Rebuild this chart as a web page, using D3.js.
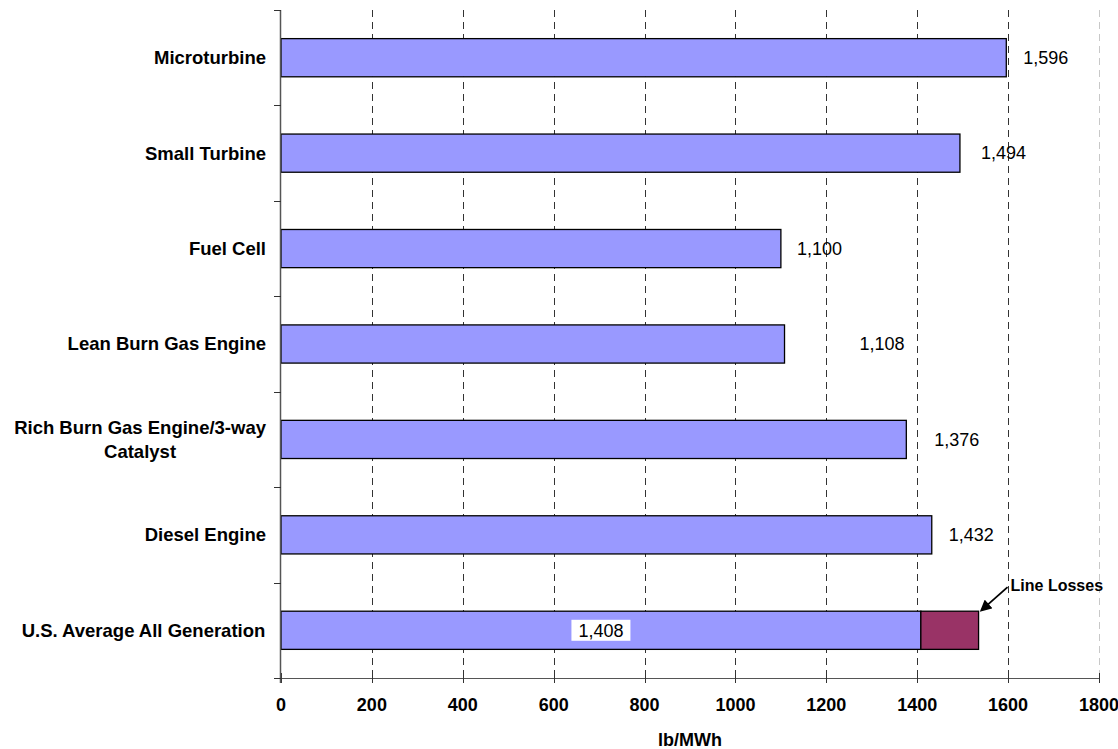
<!DOCTYPE html>
<html>
<head>
<meta charset="utf-8">
<script src="https://cdn.jsdelivr.net/npm/d3@7/dist/d3.min.js"></script>
<style>
  html, body { margin: 0; padding: 0; background: #fff; }
  svg { display: block; font-family: Arial, "Liberation Sans", sans-serif; }
</style>
</head>
<body>
<svg id="chart" width="1118" height="749"></svg>
<script>
// CO2 emissions by generation technology (lb/MWh)
const categories = [
  "Microturbine",
  "Small Turbine",
  "Fuel Cell",
  "Lean Burn Gas Engine",
  "Rich Burn Gas Engine/3-way Catalyst",
  "Diesel Engine",
  "U.S. Average All Generation"
];
const emissions = [1596, 1494, 1100, 1108, 1376, 1432, 1408];
const lineLosses = [0, 0, 0, 0, 0, 0, 127];
const xTicks = [0, 200, 400, 600, 800, 1000, 1200, 1400, 1600, 1800];
const axisTitle = "lb/MWh";
const annotationText = "Line Losses";

// Horizontal gap (px) between each bar end and its value label
const labelGap = [17, 21, 16, 75, 28, 17, null];

const svg = d3.select("#chart");
const plot = { left: 281, right: 1099, top: 10, bottom: 678 };

const x = d3.scaleLinear().domain([0, 1800]).range([plot.left, plot.right]);
const y = d3.scaleBand().domain(categories).range([plot.top, plot.bottom]).paddingInner(0.6).paddingOuter(0.3);
const yBand = d3.scaleBand().domain(categories).range([plot.top, plot.bottom]);

const fmt = d3.format(",");

// Vertical dashed gridlines
svg.append("g").selectAll("line")
  .data(xTicks.filter(d => d > 0))
  .join("line")
  .attr("x1", d => Math.round(x(d)) + 0.5).attr("x2", d => Math.round(x(d)) + 0.5)
  .attr("y1", plot.top).attr("y2", plot.bottom)
  .attr("stroke", d => d === 1800 ? "#c8c8c8" : "#333")
  .attr("stroke-width", 1)
  .attr("stroke-dasharray", "7,5");

// Main bars
svg.append("g").selectAll("rect")
  .data(categories)
  .join("rect")
  .attr("x", x(0))
  .attr("y", d => y(d))
  .attr("width", (d, i) => x(emissions[i]) - x(0))
  .attr("height", y.bandwidth())
  .attr("fill", "#9999ff")
  .attr("stroke", "#000")
  .attr("stroke-width", 1.3);

// Line-loss segments stacked on the bars
svg.append("g").selectAll("rect")
  .data(categories.filter((d, i) => lineLosses[i] > 0))
  .join("rect")
  .attr("x", d => x(emissions[categories.indexOf(d)]))
  .attr("y", d => y(d))
  .attr("width", d => { const i = categories.indexOf(d); return x(emissions[i] + lineLosses[i]) - x(emissions[i]); })
  .attr("height", y.bandwidth())
  .attr("fill", "#993366")
  .attr("stroke", "#000")
  .attr("stroke-width", 1.3);

// Axes
const xAxisG = svg.append("g");
xAxisG.append("line")
  .attr("x1", plot.left - 7).attr("x2", plot.right)
  .attr("y1", plot.bottom + 0.5).attr("y2", plot.bottom + 0.5)
  .attr("stroke", "#555");
xAxisG.selectAll("line.tick")
  .data(xTicks)
  .join("line").attr("class", "tick")
  .attr("x1", d => Math.round(x(d)) + 0.5).attr("x2", d => Math.round(x(d)) + 0.5)
  .attr("y1", plot.bottom - 5).attr("y2", plot.bottom + 5)
  .attr("stroke", "#333");
xAxisG.selectAll("text")
  .data(xTicks)
  .join("text")
  .attr("x", d => x(d))
  .attr("y", plot.bottom + 33)
  .attr("text-anchor", "middle")
  .attr("font-size", 18)
  .attr("font-weight", "bold")
  .text(d => d);

svg.append("text")
  .attr("x", (plot.left + plot.right) / 2)
  .attr("y", 746)
  .attr("text-anchor", "middle")
  .attr("font-size", 18)
  .attr("font-weight", "bold")
  .text(axisTitle);

const yAxisG = svg.append("g");
yAxisG.append("line")
  .attr("x1", plot.left - 0.5).attr("x2", plot.left - 0.5)
  .attr("y1", plot.top).attr("y2", plot.bottom + 5)
  .attr("stroke", "#555").attr("stroke-width", 1.5);
const bandEdges = categories.map(c => yBand(c)).concat([plot.bottom]);
yAxisG.selectAll("line.tick")
  .data(bandEdges)
  .join("line").attr("class", "tick")
  .attr("x1", plot.left - 7).attr("x2", plot.left)
  .attr("y1", d => Math.round(d) + 0.5).attr("y2", d => Math.round(d) + 0.5)
  .attr("stroke", "#333");

// Category labels (wrapped when too long), right-aligned block with centered lines
function wrapWords(text, maxW, size) {
  const ctx = document.createElement("canvas").getContext("2d");
  ctx.font = `bold ${size}px Arial`;
  const words = text.split(" ");
  const lines = [];
  let cur = "";
  words.forEach(w => {
    const t = cur ? cur + " " + w : w;
    if (ctx.measureText(t).width > maxW && cur) { lines.push(cur); cur = w; } else cur = t;
  });
  lines.push(cur);
  return { lines, widths: lines.map(l => ctx.measureText(l).width) };
}

const labelSize = 18.5;
const catG = svg.append("g");
categories.forEach((c, i) => {
  const { lines, widths } = wrapWords(c, 258, labelSize);
  const blockW = d3.max(widths);
  const cx = plot.left - 15 - blockW / 2;
  const cy = y(c) + y.bandwidth() / 2;
  const lh = 24;
  const t = catG.append("text")
    .attr("text-anchor", "middle")
    .attr("font-size", labelSize)
    .attr("font-weight", "bold");
  lines.forEach((l, k) => {
    t.append("tspan")
      .attr("x", cx)
      .attr("y", cy + (k - (lines.length - 1) / 2) * lh)
      .attr("dy", "0.35em")
      .text(l);
  });
});

// Value labels
const valG = svg.append("g");
categories.forEach((c, i) => {
  const cy = y(c) + y.bandwidth() / 2;
  if (labelGap[i] !== null) {
    valG.append("text")
      .attr("x", x(emissions[i]) + labelGap[i])
      .attr("y", cy)
      .attr("dy", "0.35em")
      .attr("font-size", 18)
      .text(fmt(emissions[i]));
  } else {
    const cx = x(emissions[i] / 2);
    valG.append("rect")
      .attr("x", cx - 29.5).attr("y", cy - 10.5)
      .attr("width", 59).attr("height", 21)
      .attr("fill", "#fff");
    valG.append("text")
      .attr("x", cx)
      .attr("y", cy)
      .attr("dy", "0.35em")
      .attr("text-anchor", "middle")
      .attr("font-size", 18)
      .text(fmt(emissions[i]));
  }
});

// Line-loss annotation with arrow
const li = lineLosses.findIndex(v => v > 0);
const tipX = x(emissions[li] + lineLosses[li]) + 1;
const tipY = y(categories[li]) + 1;
svg.append("defs").append("marker")
  .attr("id", "arrowHead")
  .attr("viewBox", "0 0 10 10")
  .attr("refX", 8).attr("refY", 5)
  .attr("markerWidth", 7).attr("markerHeight", 6.5)
  .attr("markerUnits", "strokeWidth")
  .attr("orient", "auto")
  .append("path").attr("d", "M0,0 L10,5 L0,10 Z").attr("fill", "#000");
svg.append("line")
  .attr("x1", tipX + 28).attr("y1", tipY - 25)
  .attr("x2", tipX + 2).attr("y2", tipY - 2)
  .attr("stroke", "#000").attr("stroke-width", 1.8)
  .attr("marker-end", "url(#arrowHead)");
svg.append("text")
  .attr("x", tipX + 31)
  .attr("y", tipY - 21)
  .attr("font-size", 16)
  .attr("font-weight", "bold")
  .text(annotationText);
</script>
</body>
</html>
